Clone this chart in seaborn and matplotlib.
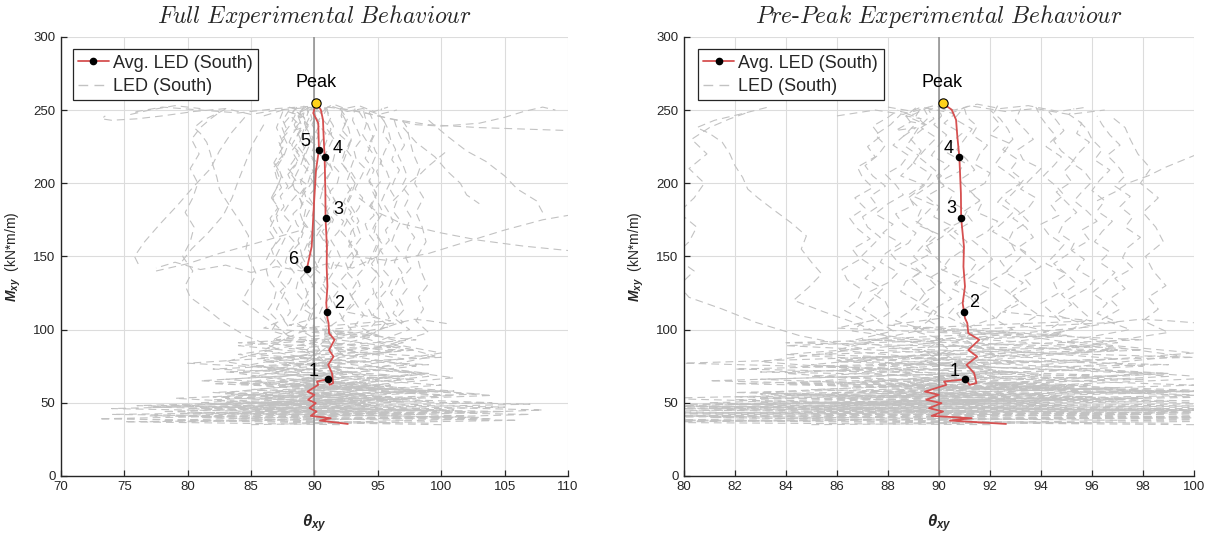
import numpy as np
import pandas as pd
import matplotlib
matplotlib.use("Agg")
import matplotlib.pyplot as plt
from matplotlib.lines import Line2D
import seaborn as sns

# ---------------- average LED response (South face) ----------------
avg_pre_theta = [92.63, 90.43, 91.28, 89.71, 90.16, 89.61, 90.10, 89.50, 89.99, 89.45,
                 90.29, 90.20, 90.82, 91.03, 91.20, 91.47, 91.38, 91.08, 91.50, 91.15,
                 91.58, 91.15, 91.11, 91.02, 90.98, 90.93, 91.02, 90.96, 90.98, 90.87,
                 90.86, 90.80, 90.72, 90.67, 90.50, 90.14]
avg_pre_m = [35.5, 37.8, 39.4, 41.0, 44.0, 46.3, 49.7, 52.0, 55.4, 57.6,
             62.2, 64.5, 65.6, 66.1, 62.2, 63.4, 70.2, 75.9, 81.5, 86.0,
             93.0, 97.5, 104.4, 107.8, 112.3, 118.0, 129.4, 143.0, 156.7, 176.1,
             193.2, 217.8, 232.0, 243.3, 250.2, 254.7]
avg_post_theta = [89.90, 90.30, 90.35, 90.12, 89.96, 89.78, 89.40]
avg_post_m = [247.9, 241.0, 222.8, 209.0, 186.0, 156.7, 141.5]

peak_theta, peak_m = 90.14, 254.7
stage_full_labels = ["1", "2", "3", "4", "5", "6"]
stage_full_theta = [91.03, 90.98, 90.87, 90.80, 90.35, 89.40]
stage_full_m = [66.1, 112.3, 176.1, 217.8, 222.8, 141.5]
stage_pre_labels = ["1", "2", "3", "4"]
stage_pre_theta = [91.03, 90.98, 90.87, 90.80]
stage_pre_m = [66.1, 112.3, 176.1, 217.8]

# ---------------- individual LED traces, up to peak ----------------
led_pre_theta = [
    [92, 75, 103, 80, 99, 85, 96, 87, 93, 89.8, 91.4, 90.9, 90.2, 91.3, 90.8, 91.0, 90.3, 90.6, 91.2, 90.5, 90.9, 90.1, 90.4, 91.0, 90.7, 90.2, 90.9, 91.1, 90.4, 90.6, 90.0, 90.8, 91.0, 90.3, 90.5, 90.9, 90.2, 90.6, 90.0],
    [88, 104, 74, 101, 78, 97, 83, 95, 87, 91.5, 88.7, 89.9, 89.4, 90.2, 89.0, 89.6, 89.9, 89.2, 89.5, 90.1, 89.3, 88.9, 89.7, 89.5, 90.0, 89.1, 89.4, 89.8, 89.0, 89.6, 90.1, 89.7, 89.2, 89.5, 89.9, 89.3, 89.8, 89.6, 90.3],
    [97, 79, 102, 81, 94, 84, 92, 83, 95, 86, 93, 87.5, 89.4, 88.3, 88.9, 89.2, 88.5, 88.7, 89.3, 88.4, 88.1, 88.8, 89.1, 88.6, 88.3, 89.0, 88.8, 89.4, 88.5, 88.9, 89.2, 88.7, 89.0, 89.5, 89.1, 89.3],
    [85, 106, 77, 100, 82, 98, 86, 94, 89, 93, 90.8, 92.3, 91.5, 91.9, 91.2, 92.2, 91.7, 91.4, 92.0, 91.1, 91.6, 92.1, 91.8, 91.3, 91.9, 92.3, 91.5, 91.7, 91.2, 91.8, 92.0, 91.4, 91.6, 91.9, 91.3, 91.5, 91.1, 91.0],
    [80, 101, 83, 105, 87, 96, 85, 93, 98, 88, 96, 90, 92.9, 92.2, 92.5, 93.1, 92.6, 92.0, 92.7, 92.4, 93.0, 92.8, 92.1, 92.5, 92.9, 92.3, 92.6, 93.2, 92.7, 92.2, 92.5, 92.8, 92.0, 92.4, 92.1, 92.3],
    [99, 73, 96, 84, 104, 88, 97, 91, 86, 97, 91, 95, 93.2, 93.9, 93.4, 92.9, 93.6, 93.3, 94.0, 93.5, 93.1, 93.7, 93.4, 92.9, 93.5, 93.8, 93.2, 93.6, 94.0, 93.3, 93.1, 93.7, 93.4, 93.0, 93.2],
    [90, 107, 81, 99, 89, 100, 90, 98, 92, 97, 94.1, 94.8, 94.4, 94.0, 94.7, 94.5, 95.0, 94.2, 94.6, 94.9, 94.3, 94.0, 94.7, 94.4, 94.9, 94.6, 94.1, 94.5, 94.8, 94.2, 94.6, 94.3, 94.0, 93.8],
    [102, 78, 95, 86, 101, 92, 99, 91, 97, 94, 95.3, 95.9, 95.5, 95.1, 95.8, 96.1, 95.4, 95.7, 95.2, 95.9, 95.6, 96.2, 95.8, 95.3, 95.6, 96.0, 95.7, 95.2, 95.5, 95.9, 95.4, 95.6, 95.1, 95.3],
    [95, 108, 85, 103, 92, 99, 94, 100, 95, 97.5, 96.4, 97.1, 96.7, 97.3, 96.9, 97.6, 97.2, 97.4, 97.9, 97.3, 97.6, 97.1, 97.5, 96.9, 97.3, 97.0, 96.6, 97.1, 96.7, 96.4, 96.2],
    [100, 78, 98, 74, 94, 82, 100, 86, 91, 85, 90, 86.5, 88.2, 87.6, 88.1, 87.9, 87.3, 88.0, 88.4, 87.7, 87.9, 88.5, 87.8, 88.2, 87.5, 88.0, 88.6, 88.3, 87.9, 88.5, 88.8, 88.2, 88.6, 89.0, 88.7, 89.2],
    [84, 99, 77, 92, 82, 96, 85, 92, 84, 90, 86.6, 87.1, 86.3, 86.8, 87.0, 86.4, 86.2, 86.9, 86.6, 87.3, 86.8, 86.5, 87.1, 86.7, 87.4, 87.0, 86.8, 87.5, 87.2, 87.7, 87.4, 88.0, 88.4],
    [92, 80, 97, 83, 90, 84, 91, 86, 88, 86.8, 85.5, 84.3, 84.9, 85.4, 85.0, 84.6, 84.8, 84.2, 83.5, 82.9, 82.5, 82.3, 82.0, 81.8, 81.5, 81.0, 80.5, 81.2, 82.4, 83.3],
    [90, 81, 94, 84, 89, 83, 87, 84.5, 82.8, 81.5, 80.2, 79.8, 80.4, 79.6, 80.2, 80.5, 79.8, 80.4, 80.8, 80.2, 80.9, 80.3, 81.0, 81.8, 82.6],
    [99, 86, 104, 93, 101, 95, 99.5, 96, 99, 98.0, 98.6, 98.2, 98.9, 98.4, 98.1, 98.8, 98.5, 98.0, 98.6, 97.9, 98.3, 97.8, 97.5, 97.3, 96.8],
    [96, 81, 105, 76, 93, 88, 95, 89, 92, 89.4, 90.4, 89.9, 90.2, 89.5, 89.8, 90.5, 90.0, 89.6, 90.3, 89.9, 89.4, 90.1, 90.6, 89.8, 90.0, 89.5, 90.2, 89.9, 90.4, 89.7, 90.0, 90.3, 89.8, 90.1, 90.0],
    [77, 102, 85, 107, 83, 98, 88, 94, 90, 92, 90.5, 91.3, 91.0, 90.7, 91.4, 91.1, 90.6, 91.2, 91.5, 90.9, 91.1, 90.6, 91.3, 91.0, 91.6, 91.2, 90.8, 91.4, 91.1, 90.7, 91.0, 91.3, 90.6, 90.9],
    [95, 82, 99, 84, 97, 82, 94, 85, 96, 87, 93, 88, 90.2, 89.1, 89.6, 89.3, 88.9, 89.5, 89.0, 89.4, 89.8, 89.1, 89.3, 88.8, 89.4, 89.7, 89.0, 89.3, 88.9, 89.2, 89.6, 89.4],
    [86, 101, 88, 98, 83, 99, 87, 97, 84, 95, 89, 96, 92.5, 93.2, 92.8, 93.3, 92.6, 93.0, 93.4, 92.7, 92.9, 93.5, 93.1, 92.6, 93.0, 93.3, 92.8, 93.1, 92.5, 92.9, 92.7, 92.4, 92.0],
    [83, 99, 82, 96, 85, 100, 88, 98, 90, 97, 96.2, 96.6, 96.0, 96.5, 96.9, 96.3, 96.7, 96.1, 96.4, 96.8, 96.2, 96.5, 96.0, 96.3, 96.7, 96.1, 96.4, 96.0, 95.8, 95.4],
    [92, 79, 95, 81, 93, 80, 91, 84, 94, 86, 87.6, 87.0, 87.4, 87.8, 87.1, 87.5, 86.9, 87.3, 87.7, 87.2, 87.0, 87.6, 87.3, 87.9, 87.4, 87.1, 87.6, 87.9, 87.5, 88.1, 88.5],
    [100, 88, 99, 86, 98, 91, 96, 94.6, 95.2, 94.8, 95.4, 95.0, 94.5, 95.1, 95.3, 94.7, 94.9, 95.4, 95.0, 94.6, 95.2, 94.9, 95.3, 94.8, 94.5, 94.9, 94.6, 94.3],
    [94, 95.5, 96.8, 97.9, 99, 100.5],
    [96.2, 96.9, 97.4, 98.2, 98.9, 99.6, 100.3],
    [86, 87.5, 88.6, 89.3, 90.5, 91.2, 92.6, 93.8, 95.1, 96.5],
    [88, 89, 89.8, 90.6, 91.5, 92.4, 93.5, 94.7, 95.8],
    [88.6, 89.1, 88.3, 88.9, 89.5, 88.7, 89.3, 88.5, 89.0, 89.6],
]
led_pre_m = [
    [35, 37, 40, 43, 46, 50, 54, 58, 62, 66, 71, 77, 83, 90, 96, 103, 109, 115, 122, 128, 135, 141, 148, 155, 161, 168, 174, 181, 188, 194, 201, 208, 214, 221, 228, 234, 241, 247, 252],
    [36, 39, 42, 45, 48, 52, 56, 60, 64, 69, 75, 80, 86, 93, 99, 106, 112, 119, 126, 132, 139, 145, 152, 158, 165, 172, 178, 185, 191, 198, 205, 211, 218, 224, 231, 238, 244, 250, 254],
    [38, 41, 44, 47, 51, 55, 60, 66, 72, 79, 86, 93, 100, 106, 113, 119, 126, 133, 139, 146, 152, 159, 166, 172, 179, 185, 192, 199, 205, 212, 219, 225, 232, 239, 246, 252],
    [35, 38, 41, 45, 49, 53, 57, 61, 65, 70, 76, 82, 89, 95, 102, 108, 115, 121, 128, 134, 141, 148, 154, 161, 167, 174, 180, 187, 194, 200, 207, 213, 220, 226, 233, 239, 245, 251],
    [37, 40, 43, 47, 50, 54, 59, 64, 70, 77, 85, 93, 100, 107, 113, 120, 127, 133, 140, 147, 153, 160, 167, 173, 180, 187, 193, 200, 207, 213, 220, 227, 233, 240, 246, 253],
    [36, 39, 43, 46, 50, 55, 60, 65, 72, 80, 88, 96, 103, 110, 116, 123, 130, 136, 143, 150, 156, 163, 170, 176, 183, 190, 196, 203, 210, 216, 223, 230, 236, 243, 251],
    [38, 42, 46, 51, 56, 62, 68, 75, 83, 91, 98, 105, 112, 118, 125, 132, 138, 145, 152, 158, 165, 172, 178, 185, 192, 198, 205, 212, 218, 225, 232, 238, 245, 252],
    [40, 44, 48, 53, 58, 63, 70, 78, 86, 94, 101, 108, 114, 121, 128, 134, 141, 148, 154, 161, 168, 174, 181, 188, 194, 201, 208, 214, 221, 228, 234, 241, 247, 251],
    [41, 45, 50, 56, 62, 68, 76, 84, 92, 100, 107, 114, 121, 128, 135, 142, 149, 156, 163, 170, 177, 184, 191, 198, 205, 212, 219, 226, 233, 240, 246],
    [35, 38, 42, 46, 50, 54, 58, 63, 69, 76, 84, 92, 99, 106, 112, 119, 126, 132, 139, 146, 152, 159, 166, 172, 179, 186, 192, 199, 206, 212, 219, 226, 232, 239, 246, 253],
    [39, 43, 47, 52, 57, 62, 68, 75, 83, 91, 99, 106, 113, 120, 127, 134, 141, 148, 155, 162, 169, 176, 183, 190, 197, 204, 211, 218, 225, 232, 239, 245, 250],
    [42, 46, 51, 57, 63, 70, 78, 86, 95, 104, 112, 120, 129, 138, 146, 155, 164, 173, 182, 190, 196, 204, 212, 220, 228, 234, 238, 243, 248, 252],
    [45, 50, 56, 63, 70, 78, 87, 96, 105, 114, 122, 130, 140, 150, 160, 170, 180, 190, 200, 210, 220, 230, 238, 244, 249],
    [44, 49, 55, 61, 67, 74, 82, 90, 98, 106, 114, 122, 130, 140, 150, 160, 170, 180, 190, 200, 210, 220, 230, 238, 245],
    [36, 40, 44, 48, 52, 57, 61, 66, 72, 79, 86, 93, 100, 107, 114, 121, 128, 135, 142, 149, 156, 163, 170, 177, 184, 191, 198, 205, 212, 219, 226, 233, 240, 246, 251],
    [37, 41, 45, 49, 53, 58, 63, 69, 76, 83, 90, 97, 104, 111, 118, 125, 132, 139, 146, 153, 160, 167, 174, 181, 188, 195, 202, 209, 216, 223, 230, 237, 244, 250],
    [45, 52, 58, 63, 68, 73, 78, 83, 88, 93, 98, 103, 108, 114, 121, 128, 135, 142, 150, 158, 166, 174, 182, 190, 198, 206, 214, 222, 230, 238, 245, 251],
    [48, 55, 61, 66, 71, 76, 81, 86, 91, 96, 101, 106, 112, 118, 125, 132, 139, 146, 153, 160, 167, 174, 181, 188, 195, 202, 209, 216, 223, 230, 237, 244, 250],
    [50, 57, 63, 69, 75, 81, 87, 93, 99, 105, 111, 118, 125, 132, 139, 146, 153, 160, 167, 174, 181, 188, 195, 202, 209, 216, 223, 230, 237, 244],
    [47, 53, 59, 65, 71, 77, 83, 89, 95, 101, 107, 114, 121, 128, 135, 142, 149, 156, 163, 170, 177, 184, 191, 198, 205, 212, 219, 226, 233, 240, 247],
    [55, 62, 70, 78, 86, 94, 102, 110, 117, 124, 131, 138, 145, 152, 159, 166, 173, 180, 187, 194, 201, 208, 215, 222, 229, 236, 243, 249],
    [96, 101, 105, 107, 106, 104],
    [188, 194, 200, 205, 211, 216, 221],
    [246, 250, 247, 252, 248, 253, 249, 251, 247, 250],
    [252, 249, 253, 250, 254, 251, 253, 249, 252],
    [232, 238, 236, 242, 240, 246, 244, 249, 247, 252],
]

# ---------------- individual LED traces, after peak ----------------
led_post_theta = [
    [90, 87, 85, 83, 80.5, 78, 76, 74, 73.2, 73.5],
    [90.5, 87, 84, 81, 78, 76, 75.5, 77, 79, 81],
    [91, 93, 95, 96.5, 98, 100, 103, 105, 106.5, 108, 109],
    [92, 94, 96, 99, 103, 106.5, 110],
    [93, 96, 99, 102, 105, 108, 110],
    [93.5, 95, 97, 100, 103, 106.5, 110],
    [99, 100.5, 102, 103.5, 105, 106, 107.5, 108],
    [97, 98, 99.5, 100.5, 101.5, 102, 103],
    [84.5, 83.5, 82.5, 81.8, 80.5, 79.2, 77.8, 76.6, 75.8, 76.2],
    [86, 85.2, 84.6, 84.0, 83.5, 82.8, 81.6, 80.3, 79.5],
    [77.5, 80, 82.5, 85, 87, 89],
    [95, 93, 91, 89, 87, 85, 83, 81, 79, 77.5],
    [89, 88.4, 88.9, 88.2, 88.7, 88.0, 88.6, 87.9],
    [89.6, 89.2, 89.7, 89.0, 89.5, 88.9, 89.3, 88.8, 89.2, 88.7, 89.0, 88.6],
    [87.5, 87.0, 87.6, 86.8, 87.3, 86.6],
    [90.8, 91.3, 90.9, 91.5, 91.1, 90.7, 91.4, 91.0, 90.6, 91.2, 90.9, 91.5, 91.1, 90.8, 91.3, 90.9, 91.2],
    [92.0, 92.6, 92.2, 92.9, 92.4, 92.1, 92.8, 92.5, 93.0, 92.6, 92.3, 92.9, 93.2, 92.7, 93.1, 92.8],
    [88.0, 87.5, 87.9, 87.2, 87.6, 86.9, 87.4, 87.1, 86.6, 87.2, 86.8, 86.4, 87.0, 86.5, 86.1],
    [93.5, 94.1, 93.8, 94.4, 94.0, 94.7, 94.3, 94.9, 94.5, 95.1, 94.6, 95.2, 94.8, 95.0],
    [88.6, 88.1, 88.8, 88.3, 88.0, 88.7, 88.4, 87.9, 88.5, 88.2, 88.8],
    [90.4, 89.9, 90.5, 90.1, 89.7, 90.3, 89.8, 90.2, 89.6, 90.0],
]
led_post_m = [
    [252, 250, 247, 251, 249, 246, 244, 243, 244, 246],
    [253, 251, 248, 250, 252, 249, 247, 250, 253, 251],
    [252, 250, 246, 243, 240, 239, 241, 245, 249, 252, 250],
    [251, 248, 244, 240, 238, 237, 236],
    [150, 147, 152, 160, 168, 175, 178],
    [190, 180, 172, 166, 161, 157, 154],
    [243, 232, 222, 215, 205, 196, 188, 180],
    [238, 228, 218, 208, 200, 192, 186],
    [245, 235, 222, 210, 198, 185, 172, 160, 150, 143],
    [240, 228, 215, 202, 190, 178, 166, 155, 146],
    [140, 145, 152, 158, 163, 168],
    [150, 142, 145, 140, 143, 139, 144, 141, 146, 142],
    [250, 240, 230, 222, 215, 208, 201, 196],
    [251, 241, 231, 221, 211, 201, 191, 181, 171, 161, 151, 144],
    [249, 238, 226, 214, 202, 190],
    [252, 245, 238, 231, 224, 217, 210, 203, 196, 189, 182, 175, 168, 161, 154, 147, 141],
    [251, 244, 236, 229, 222, 214, 207, 200, 193, 186, 178, 171, 164, 157, 150, 143],
    [250, 243, 235, 228, 220, 213, 205, 198, 190, 183, 175, 168, 160, 153, 146],
    [249, 241, 233, 225, 217, 209, 201, 193, 185, 177, 169, 161, 153, 145],
    [252, 246, 240, 234, 228, 222, 216, 210, 204, 198, 193],
    [253, 247, 241, 235, 229, 223, 217, 211, 205, 199],
]

# ---------------- styling ----------------
sns.set_style("white")
plt.rcParams["font.family"] = ["Liberation Sans", "DejaVu Sans"]
plt.rcParams["mathtext.fontset"] = "custom"
plt.rcParams["mathtext.bf"] = "Liberation Sans:italic:bold"
plt.rcParams["mathtext.rm"] = "Liberation Sans"
plt.rcParams["mathtext.it"] = "Liberation Sans:italic"

GREY = "#c2c2c2"
RED = "#d65050"
TXT = "#262626"
DASH = (0, (7, 4.5))


def traces_frame(theta_lists, m_lists, tag):
    rows = []
    for k, (th, mm) in enumerate(zip(theta_lists, m_lists)):
        for t, m in zip(th, mm):
            rows.append((f"{tag}{k}", t, m))
    return pd.DataFrame(rows, columns=["trace", "theta", "M"])


pre_df = traces_frame(led_pre_theta, led_pre_m, "pre")
post_df = traces_frame(led_post_theta, led_post_m, "post")
full_df = pd.concat([pre_df, post_df], ignore_index=True)

avg_pre_df = pd.DataFrame({"theta": avg_pre_theta, "M": avg_pre_m})
avg_full_df = pd.DataFrame({"theta": avg_pre_theta + avg_post_theta,
                            "M": avg_pre_m + avg_post_m})

fig = plt.figure(figsize=(12.14, 5.35), dpi=100)
ax_full = fig.add_axes([0.0502, 0.1105, 0.4177, 0.8206])
ax_pre = fig.add_axes([0.5634, 0.1105, 0.4201, 0.8206])


def draw_panel(ax, led_df, avg_df, st_lab, st_th, st_m, xlim, xticks, title,
               offsets, legend_x):
    ax.set_xlim(*xlim)
    ax.set_ylim(0, 300)
    ax.set_xticks(xticks)
    ax.set_yticks(np.arange(0, 301, 50))
    ax.grid(True, color="#dcdcdc", linewidth=0.8)
    ax.set_axisbelow(True)

    sns.lineplot(data=led_df, x="theta", y="M", units="trace", estimator=None,
                 sort=False, color=GREY, linewidth=0.8, linestyle=DASH,
                 ax=ax, legend=False, zorder=2)
    ax.axvline(90, color="#8c8c8c", linewidth=1.1, zorder=3)
    sns.lineplot(data=avg_df, x="theta", y="M", estimator=None, sort=False,
                 color=RED, linewidth=1.3, ax=ax, legend=False, zorder=4)
    sns.scatterplot(x=st_th, y=st_m, color="black", s=30, edgecolor="black",
                    linewidth=0, ax=ax, zorder=5, legend=False)
    sns.scatterplot(x=[peak_theta], y=[peak_m], color="#ffd21a", s=45,
                    edgecolor="black", linewidth=0.8, ax=ax, zorder=6, legend=False)

    for lab, th, m, (dx, dy) in zip(st_lab, st_th, st_m, offsets):
        ax.annotate(lab, (th, m), xytext=(dx, dy), textcoords="offset points",
                    ha="center", va="center", fontsize=13, color="black", zorder=7)
    ax.annotate("Peak", (peak_theta, peak_m), xytext=(0, 15),
                textcoords="offset points", ha="center", va="center",
                fontsize=13, color="black", zorder=7)

    for side in ("top", "right"):
        ax.spines[side].set_visible(False)
    for side in ("left", "bottom"):
        ax.spines[side].set_color(TXT)
        ax.spines[side].set_linewidth(1.0)
    ax.tick_params(direction="in", length=4, width=0.9, colors=TXT,
                   labelsize=9.5, left=True, bottom=True, pad=4)

    ax.set_title(title, fontsize=17, fontfamily="cmr10", math_fontfamily="cm",
                 pad=10)
    ax.set_xlabel(r"$\mathbf{\theta_{xy}}$", fontsize=12,
                  math_fontfamily="custom", labelpad=14)
    ax.set_ylabel(r"$\mathbf{M_{xy}}$  (kN*m/m)", fontsize=10,
                  math_fontfamily="custom", labelpad=7)

    handles = [
        Line2D([], [], color=RED, linewidth=1.3, marker="o", markersize=4.5,
               markerfacecolor="black", markeredgecolor="black"),
        Line2D([], [], color=GREY, linewidth=1.0, linestyle=DASH),
    ]
    leg = ax.legend(handles, ["Avg. LED (South)", "LED (South)"],
                    loc="upper left", bbox_to_anchor=(legend_x, 0.972),
                    borderaxespad=0, frameon=True, fancybox=False,
                    edgecolor="#262626", framealpha=1, handlelength=1.7,
                    handletextpad=0.25, borderpad=0.3, labelspacing=0.35,
                    prop={"family": ["Liberation Sans", "DejaVu Sans"], "size": 13})
    leg.get_frame().set_linewidth(0.9)


full_offsets = [(-10, 5.5), (9, 6), (9.5, 6), (9.5, 6.5), (-10, 6), (-10, 7)]
pre_offsets = [(-7.5, 5.5), (7.5, 6.5), (-7, 7), (-8, 6.5)]

draw_panel(ax_full, full_df, avg_full_df, stage_full_labels, stage_full_theta,
           stage_full_m, (70, 110), np.arange(70, 111, 5),
           r"$\mathit{Full\ Experimental\ Behaviour}$", full_offsets, 0.023)
draw_panel(ax_pre, pre_df, avg_pre_df, stage_pre_labels, stage_pre_theta,
           stage_pre_m, (80, 100), np.arange(80, 101, 2),
           r"$\mathit{Pre}$-$\mathit{Peak\ Experimental\ Behaviour}$",
           pre_offsets, 0.027)

fig.savefig("out.png", dpi=100)
